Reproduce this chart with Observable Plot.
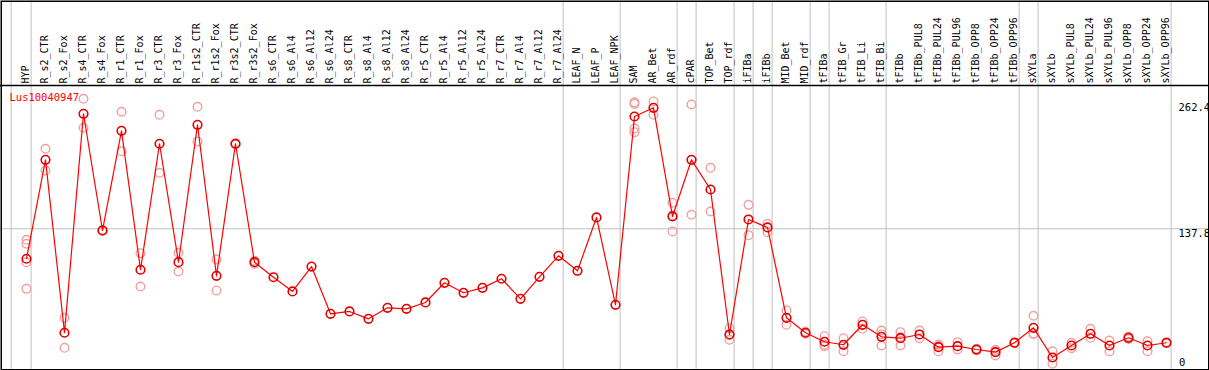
<!DOCTYPE html>
<html>
<head>
<meta charset="utf-8">
<script src="https://cdn.jsdelivr.net/npm/d3@7"></script>
<script src="https://cdn.jsdelivr.net/npm/@observablehq/plot@0.6"></script>
<style>
  html, body { margin: 0; padding: 0; background: #fff; }
  #chart svg { display: block; }
</style>
</head>
<body>
<div id="chart"></div>
<script>
const geneId = "Lus10040947";

const categories = [
  "HYP", "R_s2_CTR", "R_s2_Fox", "R_s4_CTR", "R_s4_Fox", "R_r1_CTR", "R_r1_Fox",
  "R_r3_CTR", "R_r3_Fox", "R_r1s2_CTR", "R_r1s2_Fox", "R_r3s2_CTR", "R_r3s2_Fox",
  "R_s6_CTR", "R_s6_Al4", "R_s6_Al12", "R_s6_Al24", "R_s8_CTR", "R_s8_Al4", "R_s8_Al12", "R_s8_Al24",
  "R_r5_CTR", "R_r5_Al4", "R_r5_Al12", "R_r5_Al24", "R_r7_CTR", "R_r7_Al4", "R_r7_Al12", "R_r7_Al24",
  "LEAF_N", "LEAF_P", "LEAF_NPK", "SAM", "AR_Bet", "AR_rdf", "cPAR", "TOP_Bet", "TOP_rdf",
  "iFIBa", "iFIBb", "MID_Bet", "MID_rdf", "tFIBa", "tFIB_Gr", "tFIB_Li", "tFIB_Bi",
  "tFIBb", "tFIBb_PUL8", "tFIBb_PUL24", "tFIBb_PUL96", "tFIBb_OPP8", "tFIBb_OPP24", "tFIBb_OPP96",
  "sXYLa", "sXYLb", "sXYLb_PUL8", "sXYLb_PUL24", "sXYLb_PUL96", "sXYLb_OPP8", "sXYLb_OPP24", "sXYLb_OPP96"
];

const means = [
  108.1, 206.1, 34.8, 251.7, 136.1, 234.8, 97.2,
  222.0, 104.7, 240.8, 91.2, 222.0, 104.7,
  89.8, 75.7, 100.4, 53.6, 55.9, 48.6, 59.5, 58.5,
  64.8, 84.3, 74.4, 79.3, 88.3, 68.4, 90.2, 111.0,
  96.2, 149.0, 62.5, 249.0, 257.6, 150.0, 206.1, 176.7, 33.1,
  147.0, 139.1, 49.6, 34.8, 25.9, 22.9, 42.7, 30.8,
  29.4, 33.1, 20.5, 21.5, 18.2, 15.6, 24.9,
  39.7, 10.3, 22.2, 33.8, 22.2, 29.8, 22.2, 24.9
];

const replicates = [
  [126.9, 122.9, 104.7, 78.3], [217.0, 195.5], [49.6, 19.9], [266.5, 237.8], [136.5, 135.7],
  [253.7, 214.6], [113.6, 80.6], [250.7, 193.2], [114.0, 95.4], [258.6, 224.2], [107.4, 76.7],
  [222.5, 221.5], [106.2, 103.2],
  [], [], [], [], [], [], [], [],
  [], [], [], [], [], [], [], [],
  [], [], [], [263.0, 261.5, 237.0, 233.5], [263.9, 250.7], [163.5, 151.0, 135.1], [260.9, 151.6],
  [198.2, 154.9], [39.3, 32.5, 27.8],
  [161.5, 131.5], [142.7, 134.4], [56.9, 42.7], [35.8, 33.8], [31.4, 23.0, 21.5], [29.4, 16.5],
  [46.0, 38.7], [37.0, 33.2, 22.2],
  [35.4, 30.6, 22.2], [37.0, 29.4], [23.2, 16.5, 21.8], [25.5, 18.2], [19.0, 17.4], [17.9, 12.3, 16.6],
  [25.3, 24.5],
  [51.6, 33.5, 34.0], [16.5, 4.1], [24.9, 19.5], [38.7, 29.8], [27.1, 16.5], [31.0, 28.6], [26.4, 16.5],
  [25.5, 24.3]
];

// last category of each sample group (a separator follows it)
const groupEnds = ["HYP", "R_r7_Al24", "LEAF_NPK", "AR_rdf", "cPAR", "TOP_rdf", "iFIBa", "iFIBb",
  "MID_rdf", "tFIBa", "tFIB_Bi", "tFIBb_OPP96", "sXYLa", "sXYLb_OPP96"];

const yTicks = [0, 137.8, 262.4];
const yGrid = [137.8];
const yTop = 279.7;

const meanRows = categories.map((c, i) => ({cat: c, value: means[i]}));
const repRows = categories.flatMap((c, i) => replicates[i].map(v => ({cat: c, value: v})));

const font = "DejaVu Sans Mono, monospace";

const chart = Plot.plot({
  width: 1209,
  height: 370,
  marginTop: 0, marginBottom: 0, marginLeft: 0, marginRight: 0,
  style: {fontFamily: font, fontSize: "10px", background: "#fff", color: "#000"},
  x: {type: "point", domain: categories, range: [26, 1166], padding: 0, align: 0.5, axis: null},
  y: {type: "linear", domain: [0, yTop], range: [367.4, 85], axis: null},
  marks: [
    Plot.ruleX(groupEnds, {x: d => d, stroke: "#c0c0c0", strokeWidth: 1, dx: 4.6}),
    Plot.ruleX(["HYP"], {x: d => d, stroke: "#c0c0c0", strokeWidth: 1, dx: -15.4}),
    Plot.ruleY(yGrid, {stroke: "#c0c0c0", strokeWidth: 1}),
    Plot.ruleY([yTop], {stroke: "#000", strokeWidth: 1.5}),
    Plot.frame({stroke: "#000", strokeWidth: 1.5, inset: 0.75}),
    Plot.text(categories, {
      x: d => d, y: () => yTop, text: d => d, rotate: -90,
      textAnchor: "start", lineAnchor: "middle", dy: -2, dx: -0.5,
      fill: "#000", fontSize: 10, fontFamily: font
    }),
    Plot.text([geneId], {
      x: () => "HYP", y: () => yTop, text: d => d, dx: -17, dy: 12,
      textAnchor: "start", lineAnchor: "middle", fill: "#ff0000", fontSize: 10.5, fontFamily: font
    }),
    Plot.text(yTicks.filter(t => t > 0), {
      x: () => "sXYLb_OPP96", y: d => d, text: d => String(d), dx: 12, dy: 0.5,
      textAnchor: "start", lineAnchor: "top", fill: "#000", fontSize: 10.5, fontFamily: font
    }),
    Plot.text(yTicks.filter(t => t === 0), {
      x: () => "sXYLb_OPP96", y: d => d, text: d => String(d), dx: 12.5, dy: -1.5,
      textAnchor: "start", lineAnchor: "bottom", fill: "#000", fontSize: 10.5, fontFamily: font
    }),
    Plot.dot(repRows, {x: "cat", y: "value", r: 4.3, stroke: "#f0a0a0", strokeWidth: 1.4, fill: "none"}),
    Plot.line(meanRows, {x: "cat", y: "value", stroke: "#ff0000", strokeWidth: 1.2}),
    Plot.dot(meanRows, {x: "cat", y: "value", r: 4.3, stroke: "#e00000", strokeWidth: 1.6, fill: "none"})
  ]
});
document.getElementById("chart").appendChild(chart);
</script>
</body>
</html>
